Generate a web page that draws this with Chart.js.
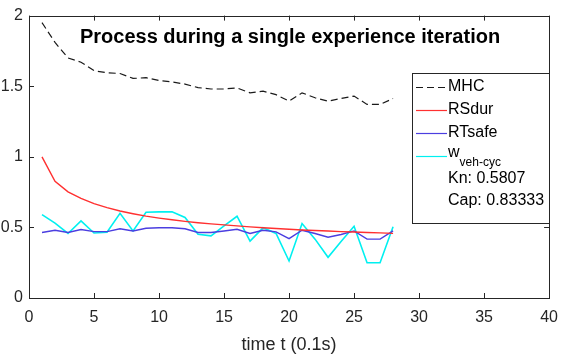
<!DOCTYPE html>
<html>
<head>
<meta charset="utf-8">
<script src="https://cdn.jsdelivr.net/npm/chart.js@4/dist/chart.umd.min.js"></script>
<style>
html,body{margin:0;padding:0;background:#fff;}
#wrap{width:568px;height:356px;position:relative;}
</style>
</head>
<body>
<div id="wrap"><canvas id="c" width="568" height="356"></canvas></div>
<script>
const timeSteps = [1,2,3,4,5,6,7,8,9,10,11,12,13,14,15,16,17,18,19,20,21,22,23,24,25,26,27,28];
const mhc = [1.95,1.81,1.70,1.67,1.61,1.595,1.59,1.555,1.56,1.54,1.53,1.515,1.49,1.48,1.48,1.488,1.453,1.465,1.44,1.394,1.453,1.418,1.394,1.413,1.43,1.371,1.371,1.413];
const rsdur = [1.0,0.827,0.752,0.706,0.668,0.64,0.616,0.597,0.58,0.566,0.554,0.543,0.533,0.525,0.518,0.511,0.504,0.498,0.492,0.487,0.482,0.478,0.474,0.470,0.467,0.464,0.461,0.458];
const rtsafe = [0.464,0.48,0.464,0.485,0.47,0.47,0.49,0.475,0.494,0.497,0.497,0.49,0.464,0.464,0.475,0.487,0.457,0.48,0.468,0.42,0.48,0.457,0.43,0.45,0.475,0.417,0.417,0.475];
const wvehcyc = [0.59,0.53,0.457,0.546,0.46,0.466,0.60,0.475,0.607,0.61,0.61,0.57,0.452,0.44,0.51,0.579,0.403,0.497,0.457,0.262,0.527,0.417,0.288,0.40,0.508,0.25,0.25,0.504];
const xTicks = [0,5,10,15,20,25,30,35,40];
const yTicks = [0,0.5,1,1.5,2];
const legendExtra = ["Kn: 0.5807","Cap: 0.83333"];
const titleText = "Process during a single experience iteration";

function pts(arr){ return arr.map((v,i)=>({x:timeSteps[i], y:v})); }

const FONT = "Arial, 'Liberation Sans', Helvetica, sans-serif";
const TXT = "#262626";
const AX = "#262626";

const boxPlugin = {
  id:'boxPlugin',
  afterDraw(chart){
    const ctx = chart.ctx, a = chart.chartArea;
    const xs = chart.scales.x, ys = chart.scales.y;
    ctx.save();
    ctx.strokeStyle = AX;
    ctx.lineWidth = 1;
    ctx.strokeRect(Math.round(a.left)+0.5, Math.round(a.top)+0.5, Math.round(a.right-a.left), Math.round(a.bottom-a.top));
    const tl = 5;
    ctx.beginPath();
    xTicks.forEach(v=>{
      const px = Math.round(xs.getPixelForValue(v))+0.5;
      ctx.moveTo(px, a.bottom); ctx.lineTo(px, a.bottom-tl);
      ctx.moveTo(px, a.top); ctx.lineTo(px, a.top+tl);
    });
    yTicks.forEach(v=>{
      const py = Math.round(ys.getPixelForValue(v))+0.5;
      ctx.moveTo(a.left, py); ctx.lineTo(a.left+tl, py);
      ctx.moveTo(a.right, py); ctx.lineTo(a.right-tl, py);
    });
    ctx.stroke();

    // title inside plot
    ctx.fillStyle = "#000";
    ctx.font = "bold 20px " + FONT;
    ctx.textAlign = "center";
    ctx.textBaseline = "middle";
    ctx.fillText(titleText, (a.left+a.right)/2 + 1, a.top + 22);

    // legend
    const lx = 412, ly = 73, lw = 137, lh = 150;
    ctx.fillStyle = "#fff";
    ctx.fillRect(lx, ly, lw, lh);
    ctx.strokeStyle = "#262626";
    ctx.lineWidth = 1;
    ctx.strokeRect(lx+0.5, ly+0.5, lw, lh);
    const rows = [87, 110, 133, 156];
    chart.data.datasets.forEach((ds,i)=>{
      const y = rows[i];
      ctx.beginPath();
      ctx.strokeStyle = ds.borderColor;
      ctx.lineWidth = 1.2;
      ctx.setLineDash(ds.borderDash || []);
      ctx.moveTo(416, y+0.5); ctx.lineTo(447, y+0.5);
      ctx.stroke();
      ctx.setLineDash([]);
      ctx.fillStyle = "#000";
      ctx.textAlign = "left";
      ctx.textBaseline = "middle";
      if (ds.label.indexOf("_") >= 0) {
        const parts = ds.label.split("_");
        ctx.font = "16px " + FONT;
        ctx.fillText(parts[0], 448, y - 3);
        const w0 = ctx.measureText(parts[0]).width;
        ctx.font = "12px " + FONT;
        ctx.fillText(parts[1], 448 + w0, y + 7);
      } else {
        ctx.font = "16px " + FONT;
        ctx.fillText(ds.label, 448, y);
      }
    });
    ctx.font = "16px " + FONT;
    ctx.fillStyle = "#000";
    legendExtra.forEach((t,i)=>{
      ctx.fillText(t, 448, 179 + i*22);
    });
    ctx.restore();
  }
};

new Chart(document.getElementById('c'), {
  type:'line',
  data:{
    datasets:[
      {label:'MHC', data:pts(mhc), borderColor:'#1a1a1a', borderWidth:1.2, borderDash:[7,4], pointRadius:0, tension:0, fill:false},
      {label:'RSdur', data:pts(rsdur), borderColor:'#ff3030', borderWidth:1.4, pointRadius:0, tension:0, fill:false},
      {label:'RTsafe', data:pts(rtsafe), borderColor:'#4b3ee0', borderWidth:1.4, pointRadius:0, tension:0, fill:false},
      {label:'w_veh-cyc', data:pts(wvehcyc), borderColor:'#00f0f0', borderWidth:1.6, pointRadius:0, tension:0, fill:false}
    ]
  },
  options:{
    responsive:false,
    animation:false,
    devicePixelRatio:1,
    layout:{padding:{left:0,right:13,top:14,bottom:0}},
    plugins:{legend:{display:false}, title:{display:false}, tooltip:{enabled:false}},
    scales:{
      x:{
        type:'linear', min:0, max:40,
        afterBuildTicks(s){ s.ticks = xTicks.map(v=>({value:v})); },
        afterFit(s){ s.height = 58; },
        grid:{display:false, drawTicks:false},
        border:{display:false},
        ticks:{color:TXT, font:{family:FONT, size:16}, padding:10, maxRotation:0, autoSkip:false},
        title:{display:true, text:'time t (0.1s)', color:TXT, font:{family:FONT, size:18}, padding:{top:0,bottom:0}}
      },
      y:{
        type:'linear', min:0, max:2,
        afterBuildTicks(s){ s.ticks = yTicks.map(v=>({value:v})); },
        afterFit(s){ s.width = 29; },
        grid:{display:false, drawTicks:false},
        border:{display:false},
        ticks:{color:TXT, font:{family:FONT, size:16}, padding:6, callback:v=>String(v)}
      }
    }
  },
  plugins:[boxPlugin]
});
</script>
</body>
</html>
